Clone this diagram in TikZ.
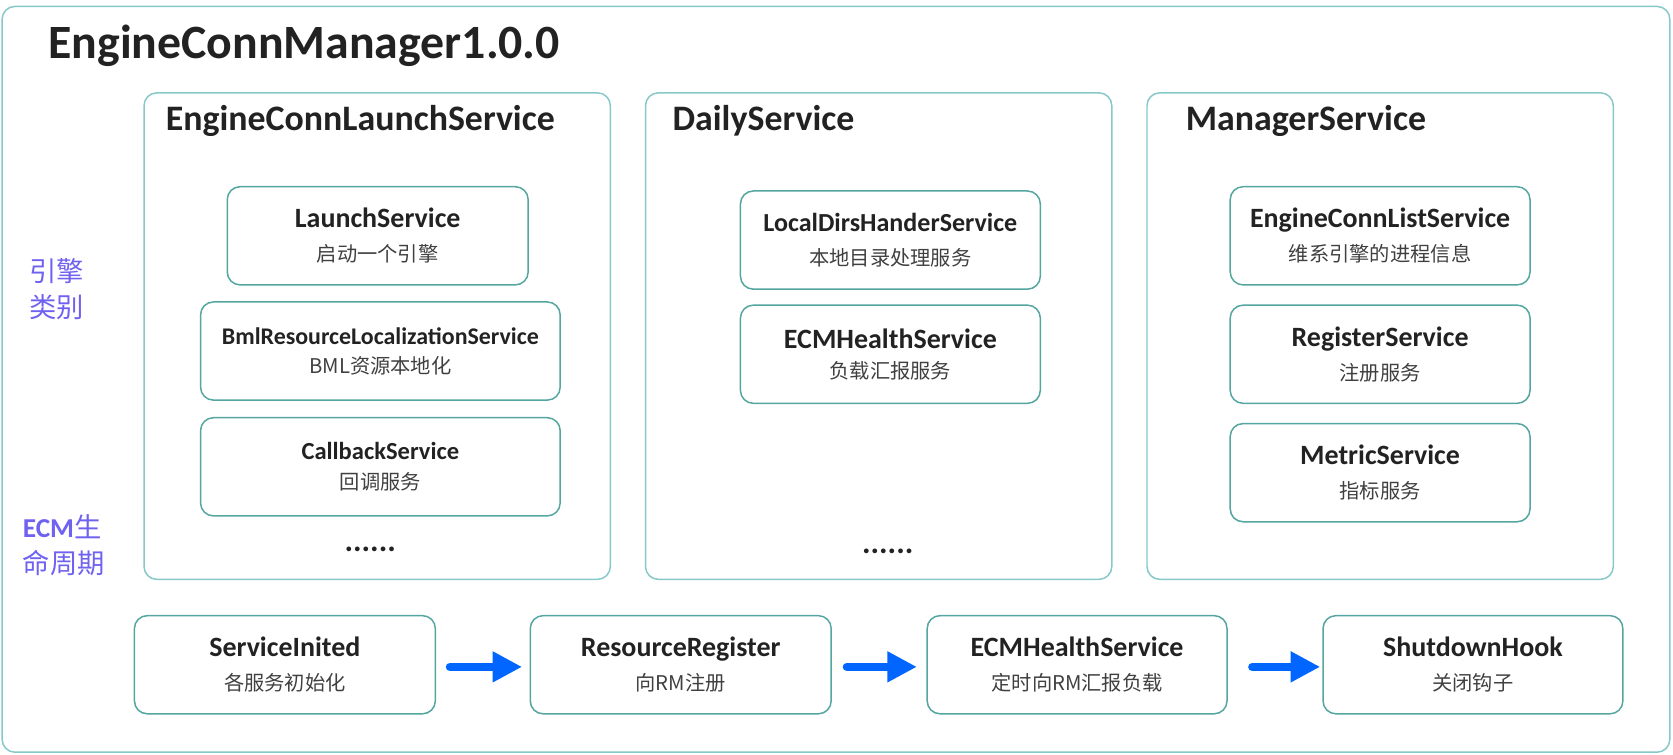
\documentclass[tikz,border=0pt]{standalone}
\usepackage{fontspec}
\setmainfont{Carlito}
\newfontfamily\cjk{Noto Sans CJK SC}
\usetikzlibrary{arrows.meta,positioning}
\definecolor{framecol}{RGB}{135,200,200}
\definecolor{boxcol}{RGB}{85,165,160}
\definecolor{labelcol}{RGB}{112,98,240}
\definecolor{arrowcol}{RGB}{0,102,255}
\definecolor{titlecol}{RGB}{34,34,34}
\definecolor{subcol}{RGB}{64,64,64}
\newcommand\svcfont{\fontsize{13.1}{16}\selectfont\bfseries}

\begin{document}
\begin{tikzpicture}[x=0.5pt,y=-0.5pt]

\tikzset{frame/.style={draw=framecol, line width=0.7pt, rounded corners=6pt},
  svc box/.style={draw=boxcol, line width=0.7pt, rounded corners=6pt,
    minimum width=#1, minimum height=46pt, inner sep=0pt,
    align=center, text=subcol, font=\cjk\fontsize{9.5}{16}\selectfont},
  svc box/.default=141pt,
  panel title/.style={anchor=base west, inner sep=0pt, text=titlecol,
    font=\fontsize{16.8}{19}\selectfont\bfseries},
  side label/.style={anchor=west, align=left, inner sep=0pt, text=labelcol,
    font=\cjk\fontsize{12.8}{17}\selectfont},
  more/.style={text=titlecol, font=\bfseries\fontsize{15}{16}\selectfont},
  flow/.style={arrowcol, line width=3.9pt, line cap=round,
    -{Triangle[length=13.8pt,width=13.6pt]}}
}

\useasboundingbox (0,0) rectangle (1568,707);

% outer frame and the three service groups
\draw[frame] (2,6) rectangle (1565,705);
\draw[frame] (135,87) rectangle (572,543);
\draw[frame] (605,87) rectangle (1042,543);
\draw[frame] (1075,87) rectangle (1512,543);

\node[anchor=base west, inner sep=0pt, text=titlecol,
  font=\fontsize{22.4}{26}\selectfont\bfseries] (ecm) at (45,55) {EngineConnManager1.0.0};
\node[panel title] (launch) at (155,122) {EngineConnLaunchService};
\node[panel title] (daily) at (630,122) {DailyService};
\node[panel title] (manager) at (1111,122) {ManagerService};

\node[side label] (kind) at (27,271) {引擎\\类别};
\node[side label] (life) at (21,511) {{\rmfamily\bfseries ECM}生\\命周期};

% EngineConnLaunchService
\node[svc box] (ls) at (354,221)
  {{\color{titlecol}\rmfamily\svcfont LaunchService}\\启动一个引擎};
\node[svc box=168.5pt, font=\cjk\fontsize{9.5}{13.5}\selectfont] (bml) at (356.5,329)
  {{\color{titlecol}\rmfamily\fontsize{11.2}{13}\selectfont\bfseries BmlResourceLocalizationService}\\BML资源本地化};
\node[svc box=168.5pt, font=\cjk\fontsize{9.5}{14}\selectfont] (cb) at (356.5,437.5)
  {{\color{titlecol}\rmfamily\fontsize{11.5}{13}\selectfont\bfseries CallbackService}\\回调服务};
\node[more] (dots1) at (347,515) {......};

% DailyService
\node[svc box=140.5pt] (ld) at (834.5,225)
  {{\color{titlecol}\rmfamily\fontsize{12.2}{16}\selectfont\bfseries LocalDirsHanderService}\\本地目录处理服务};
\node[svc box=140.5pt, font=\cjk\fontsize{9.5}{14}\selectfont] (eh) at (834.5,332)
  {{\color{titlecol}\rmfamily\svcfont ECMHealthService}\\负载汇报服务};
\node[more] (dots2) at (832,517) {......};

% ManagerService
\node[svc box=140.5pt] (el) at (1293.5,221)
  {{\color{titlecol}\rmfamily\svcfont EngineConnListService}\\维系引擎的进程信息};
\node[svc box=140.5pt] (rs) at (1293.5,332)
  {{\color{titlecol}\rmfamily\svcfont RegisterService}\\注册服务};
\node[svc box=140.5pt] (ms) at (1293.5,443)
  {{\color{titlecol}\rmfamily\svcfont MetricService}\\指标服务};

% ECM life cycle
\node[svc box] (si) at (267,623)
  {{\color{titlecol}\rmfamily\svcfont ServiceInited}\\各服务初始化};
\node[svc box] (rr) at (638,623)
  {{\color{titlecol}\rmfamily\svcfont ResourceRegister}\\向RM注册};
\node[svc box=140.5pt] (ech) at (1009.5,623)
  {{\color{titlecol}\rmfamily\svcfont ECMHealthService}\\定时向RM汇报负载};
\node[svc box=140.5pt] (sh) at (1380.5,623)
  {{\color{titlecol}\rmfamily\svcfont ShutdownHook}\\关闭钩子};

\draw[flow] ([xshift=6.5pt,yshift=-1pt]si.east) -- ([xshift=-3.5pt,yshift=-1pt]rr.west);
\draw[flow] ([xshift=7pt,yshift=-1pt]rr.east) -- ([xshift=-4.5pt,yshift=-1pt]ech.west);
\draw[flow] ([xshift=11.5pt,yshift=-1pt]ech.east) -- ([xshift=-1pt,yshift=-1pt]sh.west);

\end{tikzpicture}
\end{document}
